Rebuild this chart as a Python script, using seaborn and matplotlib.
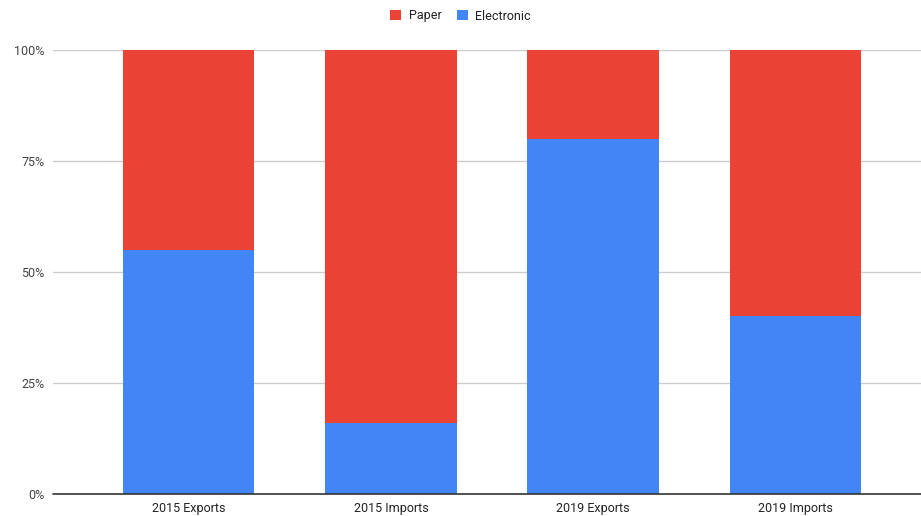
import matplotlib
matplotlib.use("Agg")
import matplotlib.pyplot as plt
import seaborn as sns
import pandas as pd
from matplotlib.patches import Patch

categories = ["2015 Exports", "2015 Imports", "2019 Exports", "2019 Imports"]
electronic = [55, 16, 80, 40]
paper = [45, 84, 20, 60]
yticks = [0, 25, 50, 75, 100]
ytick_labels = ["0%", "25%", "50%", "75%", "100%"]

RED = "#EA4335"
BLUE = "#4285F4"

sns.set_theme(style="white")
plt.rcParams['font.family'] = ['Roboto', 'Liberation Sans', 'DejaVu Sans']

df = pd.DataFrame({"cat": categories, "electronic": electronic, "paper": paper})
df["total"] = df["electronic"] + df["paper"]

fig = plt.figure(figsize=(9.21, 5.16), dpi=100)
ax = fig.add_axes([53/921, 22/516, (921-53)/921, (494-50)/516])

sns.barplot(data=df, x="cat", y="total", color=RED, saturation=1, width=0.65, ax=ax, zorder=2,
            linewidth=0, edgecolor="none")
sns.barplot(data=df, x="cat", y="electronic", color=BLUE, saturation=1, width=0.65, ax=ax, zorder=3,
            linewidth=0, edgecolor="none")

ax.set_ylim(0, 100)
ax.set_xlim(-0.67, 3.62)
ax.set_yticks(yticks)
ax.set_yticklabels(ytick_labels, fontsize=9, color="#444444")
ax.tick_params(axis="x", labelsize=9, colors="#222222", length=0, pad=6)
ax.tick_params(axis="y", length=0, pad=6)
for lab in ax.get_xticklabels():
    lab.set_color("#222222")
ax.set_xlabel("")
ax.set_ylabel("")
for y in yticks[1:]:
    ax.axhline(y, color="#cccccc", lw=1, zorder=1)
ax.axhline(0, color="#333333", lw=1.2, zorder=4, clip_on=False)
for s in ax.spines.values():
    s.set_visible(False)

handles = [Patch(facecolor=RED, edgecolor="none"), Patch(facecolor=BLUE, edgecolor="none")]
fig.legend(handles, ["Paper", "Electronic"], loc="center", bbox_to_anchor=(0.5, 1 - 16/516), ncol=2,
           frameon=False, fontsize=9, handlelength=0.9, handleheight=0.9, handletextpad=0.6,
           columnspacing=1.2, labelcolor="#222222")

fig.savefig("out.png", dpi=100)
